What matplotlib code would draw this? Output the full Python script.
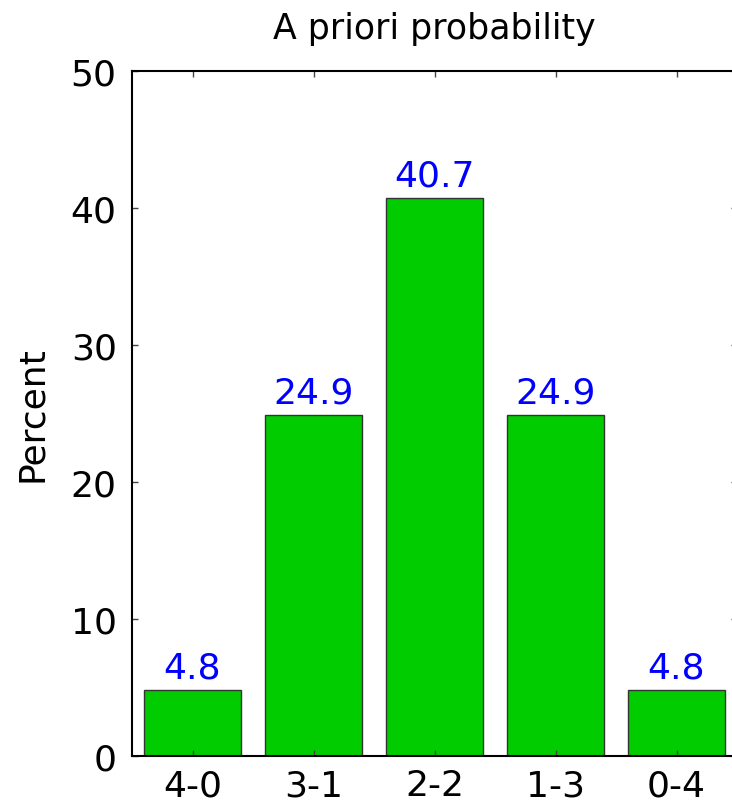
import matplotlib
matplotlib.use("Agg")
import matplotlib.pyplot as plt

categories = ["4-0", "3-1", "2-2", "1-3", "0-4"]
values = [4.8, 24.9, 40.7, 24.9, 4.8]
yticks = [0, 10, 20, 30, 40, 50]

plt.rcParams['font.family'] = ['DejaVu Sans']

fig = plt.figure(figsize=(7.32, 8.03), dpi=100)
ax = fig.add_axes([132/732, 46/803, (737-132)/732, (757-72)/803])

x = list(range(1, len(categories) + 1))
ax.bar(x, values, width=0.8, color="#00CC00", edgecolor="#333333", linewidth=1.0)
for xi, v in zip(x, values):
    ax.annotate(f"{v:.1f}", (xi, v), xytext=(0, 4), textcoords="offset points",
                ha="center", va="bottom", color="#0000FF", fontsize=26)

ax.set_xlim(0.5, 5.5)
ax.set_ylim(0, 50)
ax.set_xticks(x)
ax.set_xticklabels(categories)
ax.set_yticks(yticks)
ax.tick_params(direction="in", length=4.5, width=1, labelsize=26, top=True, right=True,
               color="#444444")
ax.tick_params(axis="x", pad=9)
ax.tick_params(axis="y", pad=11)
for s in ax.spines.values():
    s.set_linewidth(1.5)
ax.set_ylabel("Percent", fontsize=26, labelpad=16)
ax.set_title("A priori probability", fontsize=25, pad=24)

fig.savefig("out.png", dpi=100)
